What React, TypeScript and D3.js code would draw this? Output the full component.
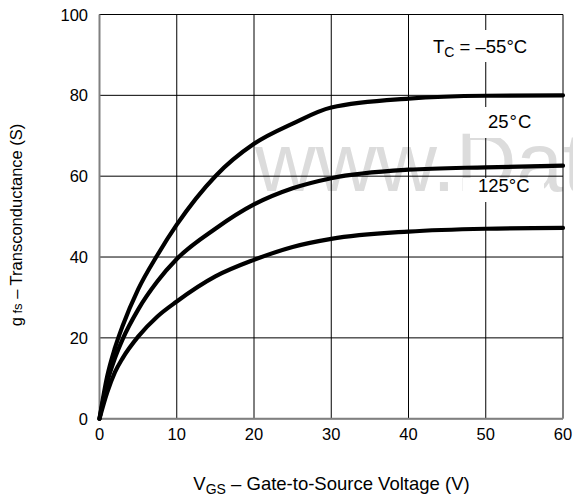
import React from "react";
import * as d3 from "d3";

const vgs = [0, 1, 2, 3, 5, 7.5, 10, 15, 20, 25, 30, 40, 50, 60];
const gfsM55 = [0, 10.5, 17.5, 23, 32, 40.5, 48, 60, 68, 73, 77, 79.2, 79.9, 80];
const gfs25 = [0, 9, 15, 19.7, 27, 34, 39.5, 47, 53, 57, 59.5, 61.6, 62.2, 62.6];
const gfs125 = [0, 6.5, 11.5, 15, 20.3, 25.3, 29, 35.2, 39.3, 42.5, 44.5, 46.3, 47, 47.2];
const xTicks = [0, 10, 20, 30, 40, 50, 60];
const yTicks = [0, 20, 40, 60, 80, 100];

const W = 573;
const H = 496;
const FONT = "'Liberation Sans', Arial, Helvetica, sans-serif";

export default function App() {
  const x = d3.scaleLinear().domain([0, 60]).range([99.5, 563]);
  const y = d3.scaleLinear().domain([0, 100]).range([418.7, 14.5]);
  const line = d3
    .line<number>()
    .x((_, i) => x(vgs[i]))
    .y((d) => y(d))
    .curve(d3.curveMonotoneX);
  const series = [gfsM55, gfs25, gfs125];
  const fs = 16.5;
  const lf = 18.5;
  return (
    <svg
      width={W}
      height={H}
      style={{ position: "absolute", left: 0, top: 0, background: "#fff" }}
      fontFamily={FONT}
    >
      <rect x={0} y={0} width={W} height={H} fill="#fff" />
      <text x={255} y={191} fontSize={84} fill="#dcdcdc">
        www.DataSheet4U.com
      </text>
      {xTicks.map((t) => (
        <line key={"gx" + t} x1={x(t)} x2={x(t)} y1={y(0)} y2={y(100)} stroke="#000" strokeWidth={1} />
      ))}
      {yTicks.map((t) => (
        <line key={"gy" + t} x1={x(0)} x2={x(60)} y1={y(t)} y2={y(t)} stroke="#000" strokeWidth={1} />
      ))}
      <line x1={x(0)} x2={x(0)} y1={y(0)} y2={y(100)} stroke="#808080" strokeWidth={2} />
      <line x1={x(0)} x2={x(60)} y1={y(0)} y2={y(0)} stroke="#808080" strokeWidth={2} />
      {/* label backgrounds */}
      <rect x={428} y={30} width={110} height={32} fill="#fff" />
      <rect x={470} y={107} width={75} height={31} fill="#fff" />
      <rect x={463} y={178} width={81} height={24} fill="#fff" />
      {series.map((s, i) => (
        <path key={"s" + i} d={line(s) || ""} fill="none" stroke="#000" strokeWidth={4.2} strokeLinejoin="round" strokeLinecap="round" />
      ))}
      <text x={433} y={53} fontSize={lf} fill="#000">
        T<tspan fontSize={14} dy={4}>C</tspan>
        <tspan dy={-4}> = –55°C</tspan>
      </text>
      <text x={488} y={128} fontSize={lf} fill="#000">
        25<tspan dx={1}>°</tspan><tspan dx={1}>C</tspan>
      </text>
      <text x={478} y={192} fontSize={lf} fill="#000">125°C</text>
      {yTicks.map((t) => (
        <text key={"ty" + t} x={88} y={y(t) + 6} fontSize={fs} textAnchor="end" fill="#000">
          {t}
        </text>
      ))}
      {xTicks.map((t) => (
        <text key={"tx" + t} x={x(t)} y={440} fontSize={fs} textAnchor="middle" fill="#000">
          {t}
        </text>
      ))}
      <text x={331.5} y={490} fontSize={lf} textAnchor="middle" fill="#000">
        V<tspan fontSize={14} dy={4}>GS</tspan>
        <tspan dy={-4}> – Gate-to-Source Voltage (V)</tspan>
      </text>
      <text transform="translate(22,225) rotate(-90)" fontSize={fs} textAnchor="middle" fill="#000">
        g<tspan fontSize={13}> fs</tspan> – Transconductance (S)
      </text>
    </svg>
  );
}
